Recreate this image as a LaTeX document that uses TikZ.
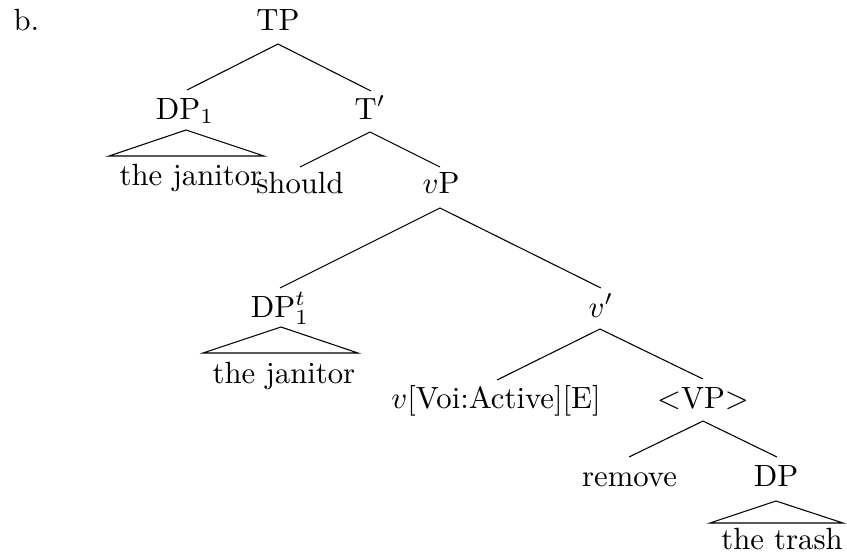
\documentclass[tikz,border=0pt]{standalone}
\begin{document}
\begin{tikzpicture}[x=0.3257pt,y=-0.3257pt,
  lbl/.style={anchor=base,inner sep=0pt},
  br/.style={line width=0.35pt},
  tri/.style={line width=0.35pt}]
\useasboundingbox (0,0) rectangle (847,559);
% labels
\node[lbl,anchor=base west] (b) at (13,30) {b.};
\node[lbl] (TP) at (278,30) {TP};
\node[lbl] (DP1) at (185,119) {DP$_1$};
\node[lbl] (Tbar) at (370,119) {T$'$};
\node[lbl] (jan1) at (191,185) {the janitor};
\node[lbl] (should) at (300,193) {should};
\node[lbl] (vP) at (441,193) {$v$P};
\node[lbl] (DPt) at (280,317) {DP$^t_1$};
\node[lbl] (vbar) at (601,317) {$v'$};
\node[lbl] (jan2) at (284,383) {the janitor};
\node[lbl] (vhead) at (496,408) {$v$[Voi:Active][E]};
\node[lbl] (VP) at (703,408) {$<$VP$>$};
\node[lbl] (remove) at (629.5,486) {remove};
\node[lbl] (DP) at (776,486) {DP};
\node[lbl] (trash) at (782,549) {the trash};
% attachment points
\coordinate (TPa) at (278,44);
\coordinate (DP1t) at (187,90);
\coordinate (Tbart) at (371,91);
\coordinate (Tbara) at (370,132);
\coordinate (shouldt) at (300,167);
\coordinate (vPt) at (440,167);
\coordinate (vPa) at (440,208);
\coordinate (DPtt) at (280,288);
\coordinate (vbart) at (601,288);
\coordinate (vbara) at (600,329);
\coordinate (vheadt) at (497,380);
\coordinate (VPt) at (703,379);
\coordinate (VPa) at (703,421);
\coordinate (removet) at (629,457);
\coordinate (DPtop) at (777,457);
% triangles
\coordinate (t1a) at (186,130); \coordinate (t1l) at (109,156); \coordinate (t1r) at (264,156);
\coordinate (t2a) at (281,327); \coordinate (t2l) at (203,353); \coordinate (t2r) at (358,353);
\coordinate (t3a) at (776,501); \coordinate (t3l) at (710,523); \coordinate (t3r) at (843,523);
% branches
\draw[br] (DP1t) -- (TPa) -- (Tbart);
\draw[br] (shouldt) -- (Tbara) -- (vPt);
\draw[br] (DPtt) -- (vPa) -- (vbart);
\draw[br] (vheadt) -- (vbara) -- (VPt);
\draw[br] (removet) -- (VPa) -- (DPtop);
\draw[tri] (t1a) -- (t1l) -- (t1r) -- cycle;
\draw[tri] (t2a) -- (t2l) -- (t2r) -- cycle;
\draw[tri] (t3a) -- (t3l) -- (t3r) -- cycle;
\end{tikzpicture}
\end{document}
